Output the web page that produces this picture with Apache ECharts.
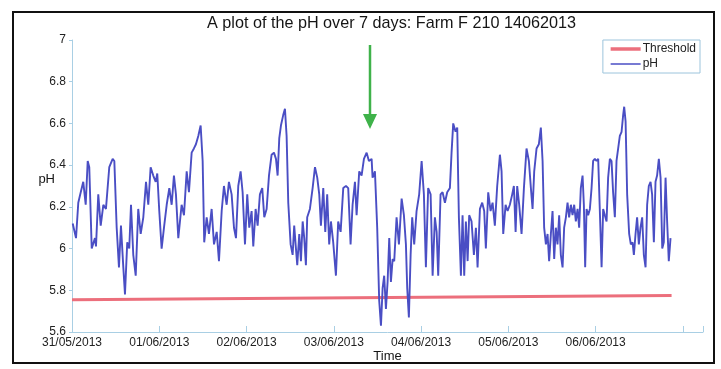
<!DOCTYPE html>
<html>
<head>
<meta charset="utf-8">
<script src="https://cdn.jsdelivr.net/npm/echarts@6/dist/echarts.min.js"></script>
<style>
html,body{margin:0;padding:0;background:#fff;}
#chart{width:721px;height:369px;}
</style>
</head>
<body>
<div id="chart"></div>
<script>
// Tick labels for the time axis (days since 31/05/2013)
const dateLabels = ['31/05/2013','01/06/2013','02/06/2013','03/06/2013','04/06/2013','05/06/2013','06/06/2013'];

// pH readings: time (days since start) and value
const days = [
0.008,0.046,0.072,0.100,0.129,0.157,0.180,0.198,0.226,0.263,0.275,0.301,0.329,0.359,0.389,0.427,0.466,0.485,0.512,0.538,
0.561,0.588,0.607,0.633,0.656,0.676,0.702,0.730,0.759,0.787,0.817,0.848,0.874,0.901,0.931,0.959,0.977,1.000,1.027,1.054,
1.085,1.115,1.142,1.168,1.191,1.218,1.256,1.283,1.314,1.340,1.371,1.397,1.420,1.447,1.474,1.497,1.515,1.543,1.569,1.600,
1.627,1.658,1.684,1.715,1.741,1.772,1.798,1.829,1.856,1.879,1.905,1.932,1.955,1.982,2.008,2.031,2.058,2.077,2.104,2.127,
2.153,2.180,2.203,2.230,2.257,2.287,2.314,2.337,2.356,2.375,2.394,2.420,2.440,2.459,2.478,2.505,2.528,2.546,2.566,2.581,
2.604,2.623,2.643,2.661,2.680,2.695,2.726,2.757,2.784,2.810,2.833,2.852,2.879,2.902,2.924,2.947,2.967,2.993,3.024,3.050,
3.078,3.108,3.139,3.165,3.192,3.215,3.242,3.261,3.291,3.318,3.345,3.376,3.402,3.433,3.444,3.471,3.497,3.520,3.540,3.559,
3.577,3.597,3.616,3.635,3.654,3.674,3.692,3.719,3.746,3.777,3.803,3.826,3.841,3.860,3.880,3.898,3.921,3.948,3.978,4.006,
4.032,4.055,4.081,4.109,4.132,4.158,4.178,4.196,4.223,4.246,4.273,4.299,4.330,4.349,4.368,4.395,4.414,4.433,4.456,4.475,
4.494,4.513,4.533,4.551,4.578,4.605,4.628,4.647,4.674,4.700,4.723,4.742,4.769,4.796,4.819,4.845,4.872,4.903,4.922,4.941,
4.968,4.991,5.017,5.044,5.063,5.083,5.101,5.124,5.151,5.178,5.208,5.235,5.258,5.277,5.296,5.323,5.349,5.372,5.392,5.410,
5.430,5.449,5.467,5.487,5.506,5.525,5.544,5.563,5.582,5.601,5.621,5.639,5.659,5.678,5.696,5.716,5.735,5.754,5.773,5.793,
5.811,5.830,5.850,5.865,5.880,5.896,5.914,5.934,5.953,5.971,5.991,6.010,6.029,6.048,6.068,6.086,6.105,6.125,6.143,6.163,
6.182,6.200,6.220,6.239,6.258,6.277,6.297,6.315,6.327,6.343,6.361,6.384,6.403,6.423,6.438,6.457,6.475,6.495,6.514,6.533,
6.552,6.572,6.590,6.609,6.629,6.647,6.667,6.686,6.704,6.724,6.744,6.763,6.781,6.801,6.819,6.838,6.858
];
const ph = [
6.12,6.05,6.22,6.27,6.32,6.21,6.42,6.39,6.00,6.05,6.01,6.26,6.11,6.21,6.19,6.39,6.43,6.42,6.10,5.91,
6.11,5.91,5.78,6.03,6.00,6.21,5.97,5.87,6.19,6.07,6.15,6.32,6.21,6.39,6.35,6.32,6.36,6.18,6.00,6.10,
6.21,6.29,6.21,6.35,6.26,6.05,6.21,6.16,6.37,6.27,6.46,6.48,6.50,6.54,6.59,6.42,6.03,6.15,6.07,6.19,
6.02,6.08,5.94,6.18,6.30,6.21,6.32,6.26,6.10,6.05,6.30,6.37,6.27,6.02,6.26,6.10,6.18,6.01,6.19,6.11,
6.26,6.29,6.15,6.19,6.35,6.45,6.46,6.43,6.35,6.53,6.59,6.64,6.67,6.54,6.22,6.02,5.97,6.11,6.00,5.92,
6.07,5.94,6.13,6.05,5.92,6.15,6.19,6.29,6.39,6.34,6.26,6.11,6.29,6.08,6.26,6.02,6.13,6.03,5.87,6.13,
6.08,6.29,6.30,6.29,6.02,6.21,6.32,6.16,6.37,6.35,6.43,6.46,6.42,6.43,6.34,6.37,6.10,5.75,5.63,5.81,
5.87,5.71,5.84,6.05,5.84,5.95,5.94,6.15,6.02,6.24,6.16,6.02,5.81,5.67,5.97,6.15,6.02,6.18,6.26,6.42,
6.26,5.91,6.29,6.26,5.87,6.15,6.08,5.87,6.26,6.27,6.22,6.27,6.29,6.46,6.60,6.56,6.58,6.15,5.87,6.16,
5.87,6.13,5.94,6.16,6.13,5.97,6.10,5.91,6.19,6.22,6.18,6.00,6.27,6.18,6.22,6.11,6.30,6.45,6.37,6.07,
6.21,6.18,6.21,6.26,6.30,6.08,6.30,6.21,6.07,6.29,6.48,6.42,6.29,6.19,6.37,6.48,6.50,6.58,6.42,6.10,
6.02,6.07,5.94,6.07,6.18,5.95,6.10,6.02,6.16,5.97,5.91,6.10,6.15,6.22,6.15,6.21,6.16,6.21,6.13,6.19,
6.10,6.29,6.35,6.21,5.91,6.19,6.16,6.19,6.29,6.42,6.43,6.42,6.43,6.18,5.91,6.19,6.16,6.13,6.34,6.43,
6.42,6.27,6.15,6.42,6.48,6.54,6.56,6.64,6.68,6.61,6.26,6.07,6.02,6.03,5.97,6.07,6.15,6.02,6.10,6.15,
5.97,5.91,6.21,6.30,6.32,6.26,6.03,6.32,6.35,6.43,6.34,6.00,6.03,6.34,6.13,5.94,6.05
];

// Threshold line (start / end)
const thresholdDays = [0, 6.87];
const thresholdVals = [5.755, 5.775];

const phData = days.map((d, i) => [d, ph[i]]);
const thrData = thresholdDays.map((d, i) => [d, thresholdVals[i]]);

const FONT = '"Liberation Sans", Arial, sans-serif';
const RED = '#ec6f7c';
const BLUE = '#4a4ec4';
const chart = echarts.init(document.getElementById('chart'), null, {renderer: 'canvas'});
chart.setOption({
  animation: false,
  backgroundColor: '#ffffff',
  title: {
    text: 'A plot of the pH over 7 days: Farm F 210 14062013',
    left: 202,
    top: 11,
    textStyle: {fontFamily: FONT, fontSize: 16.2, fontWeight: 'normal', color: '#151515'}
  },
  legend: {
    orient: 'vertical',
    right: 21,
    top: 40,
    padding: [3, 4, 3, 6],
    itemGap: 3,
    itemWidth: 30,
    itemHeight: 10,
    borderColor: '#9cc4dc',
    borderWidth: 1,
    backgroundColor: '#fff',
    itemStyle: {color: 'rgba(0,0,0,0)', borderWidth: 0, opacity: 0},
    textStyle: {fontFamily: FONT, fontSize: 12, color: '#222', padding: [0, 0, 0, -3]},
    data: [
      {name: 'Threshold', lineStyle: {color: RED, width: 3.5}},
      {name: 'pH', lineStyle: {color: BLUE, width: 1.5}}
    ]
  },
  grid: {left: 72, right: 18, top: 40, bottom: 37, outerBoundsMode: 'none', containLabel: false},
  xAxis: {
    type: 'value',
    min: 0,
    max: 7.23,
    interval: 1,
    name: 'Time',
    nameLocation: 'middle',
    nameGap: 18,
    nameMoveOverlap: false,
    nameTextStyle: {fontFamily: FONT, fontSize: 13, color: '#151515'},
    axisLine: {show: true, lineStyle: {color: '#a9cfe4', width: 1}},
    axisTick: {show: true, inside: true, length: 6, lineStyle: {color: '#a9cfe4'}},
    axisLabel: {
      fontFamily: FONT, fontSize: 12, color: '#222', margin: 5,
      formatter: v => dateLabels[Math.round(v)] || ''
    },
    splitLine: {show: false}
  },
  yAxis: {
    type: 'value',
    min: 5.6,
    max: 7,
    interval: 0.2,
    name: 'pH',
    nameLocation: 'middle',
    nameRotate: 0,
    nameGap: 17,
    nameMoveOverlap: false,
    nameTextStyle: {fontFamily: FONT, fontSize: 13, color: '#151515', verticalAlign: 'bottom'},
    axisLine: {show: true, lineStyle: {color: '#a9cfe4', width: 1}},
    axisTick: {show: true, inside: false, length: 3, lineStyle: {color: '#a9cfe4'}},
    axisLabel: {
      fontFamily: FONT, fontSize: 12, color: '#222', margin: 6,
      formatter: v => String(Math.round(v * 10) / 10)
    },
    splitLine: {show: false}
  },
  series: [
    {
      name: 'Threshold',
      type: 'line',
      data: thrData,
      symbol: 'none',
      lineStyle: {color: RED, width: 3},
      itemStyle: {color: RED},
      z: 2
    },
    {
      name: 'pH',
      type: 'line',
      data: phData,
      symbol: 'none',
      lineStyle: {color: BLUE, width: 1.9},
      itemStyle: {color: BLUE},
      z: 3
    }
  ],
  graphic: [
    {
      type: 'rect',
      shape: {x: 13, y: 12, width: 701, height: 351},
      style: {fill: 'none', stroke: '#111', lineWidth: 2},
      silent: true
    },
    {
      type: 'line',
      shape: {x1: 370, y1: 45, x2: 370, y2: 116},
      style: {stroke: '#3fb24a', lineWidth: 2.5},
      silent: true
    },
    {
      type: 'polygon',
      shape: {points: [[363, 114], [377, 114], [370, 129]]},
      style: {fill: '#3fb24a'},
      silent: true
    }
  ]
});
</script>
</body>
</html>
